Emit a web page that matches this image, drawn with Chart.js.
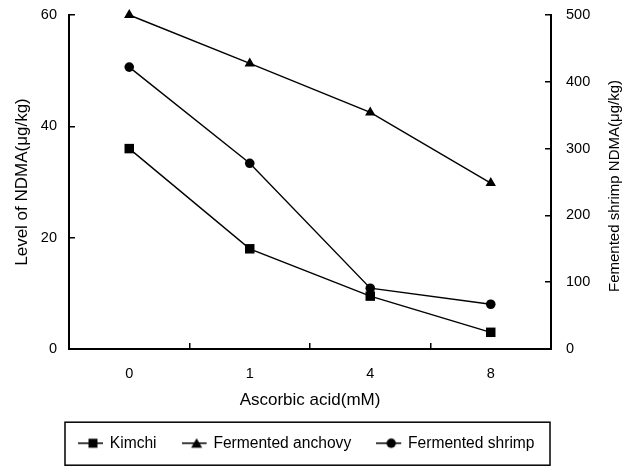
<!DOCTYPE html>
<html>
<head>
<meta charset="utf-8">
<script src="https://cdn.jsdelivr.net/npm/chart.js@4"></script>
<style>
	body { margin: 0; background: #fff; }
</style>
</head>
<body>
<canvas id="myChart" width="627" height="467"></canvas>
<script>
const doses = ["0", "1", "4", "8"];
const kimchi = [36, 18, 9.5, 3];
const anchovy = [60, 51.3, 42.5, 29.8];
const shrimp = [422, 278, 91, 67];
const leftTicks = [0, 20, 40, 60];
const rightTicks = [0, 100, 200, 300, 400, 500];
const rightTitle = "Femented shrimp NDMA(μg/kg)";

Chart.defaults.font.family = "'Liberation Sans', Arial, sans-serif";
Chart.defaults.color = "#000";

// little "-marker-" pictures for the legend
function makeIcon(style) {
	const c = document.createElement("canvas");
	c.width = 30;
	c.height = 14;
	const g = c.getContext("2d");
	g.strokeStyle = "#000";
	g.fillStyle = "#000";
	g.lineWidth = 1.5;
	g.beginPath();
	g.moveTo(0, 7);
	g.lineTo(25, 7);
	g.stroke();
	g.beginPath();
	if (style === "rect") {
		g.rect(10.5, 2.5, 9, 9);
	} else if (style === "triangle") {
		g.moveTo(15, 2);
		g.lineTo(20.5, 11.5);
		g.lineTo(9.5, 11.5);
		g.closePath();
	} else {
		g.arc(15, 7, 4.7, 0, Math.PI * 2);
	}
	g.fill();
	return c;
}

const styles = ["rect", "triangle", "circle"];
const icons = styles.map(makeIcon);

const legendPad = 31;
const legendFont = 15.6;

const extras = {
	id: "extras",
	afterLayout(chart) {
		const lg = chart.legend;
		const w = lg.right - lg.left;
		lg.left = chart.chartArea.left - 16;
		lg.right = lg.left + w;
		lg.top -= 6;
		lg.bottom -= 6;
	},
	afterDraw(chart) {
		const ctx = chart.ctx;
		const area = chart.chartArea;
		// frame round the legend
		const cy = chart.legend.top + legendPad + legendFont / 2;
		ctx.save();
		ctx.strokeStyle = "#000";
		ctx.lineWidth = 1.5;
		ctx.strokeRect(area.left - 4, cy - 21, area.right - area.left + 3, 43);
		// right axis title, read from bottom to top like the left one
		const s = chart.scales.y1;
		ctx.translate(s.right - 12, (area.top + area.bottom) / 2 + 4);
		ctx.rotate(-Math.PI / 2);
		ctx.font = "15px 'Liberation Sans', Arial, sans-serif";
		ctx.fillStyle = "#000";
		ctx.textAlign = "center";
		ctx.textBaseline = "middle";
		ctx.fillText(rightTitle, 0, 0);
		ctx.restore();
	},
};

function series(label, data, axis, style, radius) {
	return {
		label: label,
		data: data,
		yAxisID: axis,
		borderColor: "#000",
		backgroundColor: "#000",
		borderWidth: 1.4,
		pointStyle: style,
		pointRadius: radius,
		pointBorderWidth: 0,
		pointBackgroundColor: "#000",
		tension: 0,
		clip: false,
	};
}

const grid = {
	drawOnChartArea: false,
	color: "#000",
	lineWidth: 1.5,
	tickLength: -6,
};

new Chart(document.getElementById("myChart"), {
	type: "line",
	data: {
		labels: doses,
		datasets: [
			series("Kimchi", kimchi, "y", "rect", 6.7),
			series("Fermented anchovy", anchovy, "y", "triangle", 6),
			series("Fermented shrimp", shrimp, "y1", "circle", 4.8),
		],
	},
	options: {
		responsive: false,
		animation: false,
		events: [],
		layout: { padding: { top: 15, left: 0, right: 0, bottom: 0 } },
		plugins: {
			tooltip: { enabled: false },
			legend: {
				position: "bottom",
				align: "start",
				labels: {
					usePointStyle: true,
					pointStyleWidth: 18,
					padding: legendPad,
					color: "#000",
					font: { size: legendFont },
					generateLabels: (chart) =>
						Chart.defaults.plugins.legend.labels
							.generateLabels(chart)
							.map((l, i) => ({ ...l, pointStyle: icons[i] })),
				},
			},
		},
		scales: {
			x: {
				offset: true,
				grid: { ...grid, offset: true },
				border: { color: "#000", width: 2 },
				ticks: { padding: 22, font: { size: 14.5 } },
				title: {
					display: true,
					text: "Ascorbic acid(mM)",
					font: { size: 17 },
					padding: { top: 0, bottom: 0 },
				},
				afterFit: (s) => {
					s.height = 61.4;
					s.paddingLeft = 0;
					s.paddingRight = 0;
				},
			},
			y: {
				position: "left",
				min: leftTicks[0],
				max: leftTicks[leftTicks.length - 1],
				grid: grid,
				border: { color: "#000", width: 2 },
				ticks: { stepSize: leftTicks[1] - leftTicks[0], padding: 18, font: { size: 14.5 } },
				title: {
					display: true,
					text: "Level of NDMA(μg/kg)",
					font: { size: 17 },
					padding: { top: 12, bottom: 0 },
				},
				afterFit: (s) => {
					s.width = 69;
					s.paddingTop = 0;
					s.paddingBottom = 0;
				},
			},
			y1: {
				position: "right",
				min: rightTicks[0],
				max: rightTicks[rightTicks.length - 1],
				grid: grid,
				border: { color: "#000", width: 2 },
				ticks: { stepSize: rightTicks[1] - rightTicks[0], padding: 21, font: { size: 14.5 } },
				title: { display: false },
				afterFit: (s) => {
					s.width = 76;
					s.paddingTop = 0;
					s.paddingBottom = 0;
				},
			},
		},
	},
	plugins: [extras],
});
</script>
</body>
</html>
